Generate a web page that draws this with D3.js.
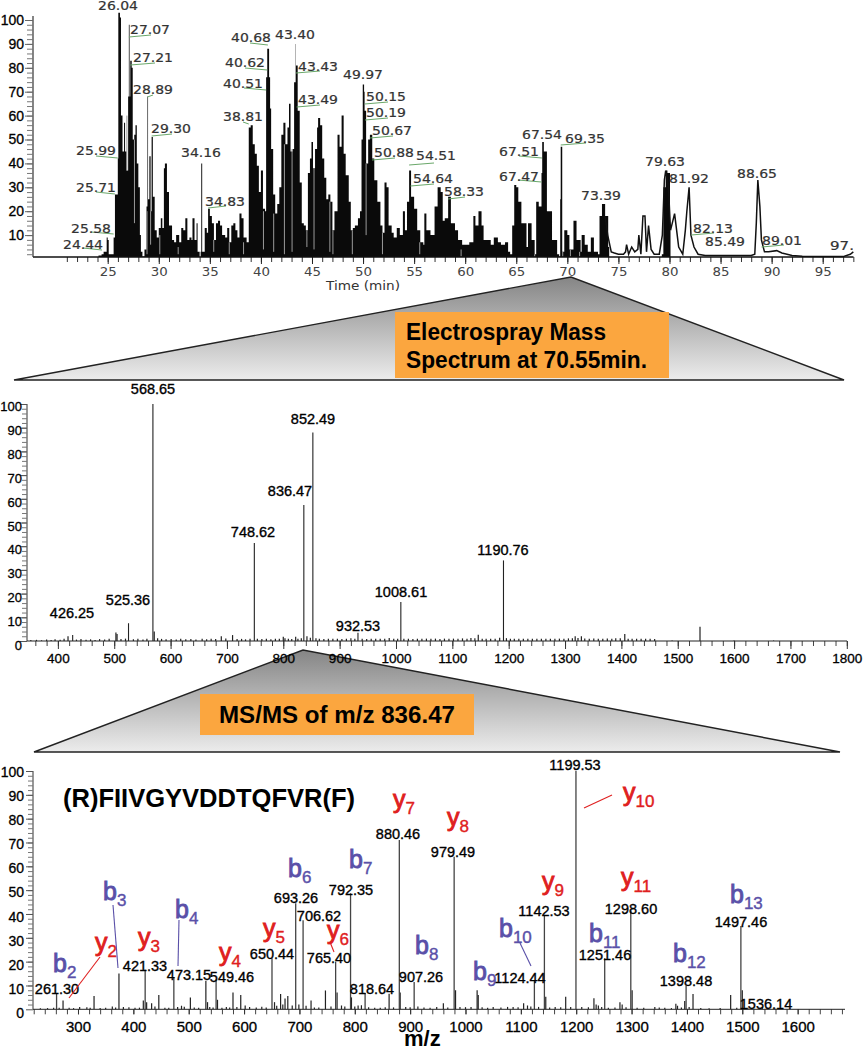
<!DOCTYPE html>
<html>
<head>
<meta charset="utf-8">
<title>LC-MS/MS</title>
<script src="https://cdn.jsdelivr.net/npm/d3@7"></script>
<style>
  body { margin: 0; background: #fff; }
  svg { display: block; }
  .ms text { font-family: "Liberation Sans", Arial, sans-serif; fill: #000; }
</style>
</head>
<body>
<div id="chart"></div>
<script>
// ---- chromatogram: [time, relative abundance] ----
const chromFilled = [[24,0.8],[24.1,1.5],[24.4,2],[24.6,3],[24.8,3],[24.9,9],[25.0,8],[25.1,2],[25.5,2],[25.58,9],[25.65,9],[25.71,27],[25.9,27],[25.99,42],[26.04,103],[26.2,101],[26.3,60],[26.45,45],[26.6,57],[26.7,45],[26.85,37],[27.0,68],[27.07,98],[27.14,68],[27.21,83],[27.35,80],[27.45,50],[27.6,52],[27.72,56],[27.85,40],[28.0,30],[28.15,10],[28.25,3],[28.4,1],[28.6,4],[28.8,22],[28.89,68],[28.95,25],[29.08,43],[29.2,20],[29.3,51],[29.42,26],[29.6,12],[29.8,9],[30.0,13],[30.2,17],[30.35,13],[30.5,38],[30.6,40],[30.8,28],[31,14],[31.3,8],[31.5,7],[31.7,10],[32,7],[32.2,13],[32.4,12],[32.6,17],[32.8,8],[33,9],[33.2,8],[33.3,17],[33.5,8],[33.7,15],[33.8,3],[34.0,0.8],[34.1,3],[34.16,40],[34.25,3],[34.5,13],[34.7,11],[34.83,21],[35.0,18],[35.2,15],[35.4,8],[35.6,15],[35.8,16],[36,14],[36.2,10],[36.5,9],[36.7,13],[36.9,7],[37.1,14],[37.3,15],[37.5,12],[37.7,9],[37.9,19],[38.1,17],[38.3,9],[38.6,7],[38.81,55],[39,56],[39.2,48],[39.4,44],[39.6,39],[39.8,28],[40,37],[40.2,21],[40.4,20],[40.51,76],[40.62,88],[40.8,76],[40.9,63],[41,46],[41.2,27],[41.4,19],[41.6,23],[41.8,30],[42,52],[42.2,57],[42.4,48],[42.6,55],[42.75,65],[42.9,45],[43.1,46],[43.25,74],[43.4,90],[43.43,81],[43.6,62],[43.8,32],[44.0,15],[44.2,14],[44.4,12],[44.6,36],[44.8,42],[44.95,49],[45.1,38],[45.3,46],[45.5,55],[45.6,59],[45.8,56],[46,42],[46.2,34],[46.4,25],[46.6,27],[46.8,24],[47,12],[47.2,20],[47.5,52],[47.7,47],[47.9,60],[48.1,44],[48.3,35],[48.6,24],[48.8,12],[49,13],[49.2,14],[49.5,17],[49.7,20],[49.85,50],[49.97,73],[50.1,70],[50.15,62],[50.3,40],[50.5,50],[50.67,52],[50.9,42],[51.1,33],[51.4,24],[51.7,14],[51.9,11],[52.1,32],[52.3,30],[52.5,14],[52.8,11],[53,9],[53.3,13],[53.6,10],[53.9,20],[54.1,12],[54.3,24],[54.51,37],[54.7,26],[55,21],[55.3,12],[55.6,7],[55.9,6],[56,19],[56.2,12],[56.6,10],[57,22],[57.3,30],[57.6,28],[57.8,16],[58.0,17],[58.33,26],[58.6,15],[59,12],[59.3,8],[59.7,6],[60.4,7],[60.8,18],[61,14],[61.3,20],[61.6,14],[61.8,8],[62.5,6],[62.8,9],[63.2,7],[63.5,6],[63.9,7],[64.2,3],[64.4,2],[64.6,14],[64.8,31],[65,30],[65.2,24],[65.5,15],[66,5],[66.15,15],[66.5,8],[66.8,2],[66.95,24],[67.2,22],[67.47,36],[67.54,49],[67.7,45],[68,20],[68.5,8],[69,2],[69.2,1],[69.3,25],[69.35,47],[69.45,47],[69.5,3],[69.7,12],[70,10],[70.2,4],[70.6,16],[70.9,8],[71.3,3],[71.4,10],[71.7,6],[72,3],[72.3,9],[72.6,3],[73,2],[73.15,18],[73.39,23],[73.7,18],[74,5],[74.1,0.8]];
const chromPeak80 = [[79.25,2],[79.4,30],[79.63,37],[79.8,36],[80.05,12],[80.1,1]];
const chromOpen = [[73.7,18],[73.95,10],[74.3,3],[74.6,2.5],[75,2],[75.5,2],[75.7,3],[75.8,6],[76,2],[76.3,5],[76.6,3],[76.9,4],[77,10],[77.2,2],[77.4,18],[77.6,18],[77.75,3],[77.95,14],[78.2,4],[78.5,2],[79,2],[79.3,10],[79.5,33],[79.63,37],[79.9,30],[80.1,12],[80.5,19],[80.9,5],[81.3,2],[81.55,12],[81.7,20],[81.92,30],[82.1,10],[82.4,5],[82.8,2],[83.5,1.5],[85,1.5],[88,1.5],[88.35,2],[88.5,15],[88.65,33],[88.85,22],[89,8],[89.3,3],[89.7,3],[90.5,3.5],[91,2.5],[92,1.5],[93,1.2],[95,1],[97,1],[97.7,2],[98,3]];
const chromSlits = [[26.88,37,60],[27.62,15,50],[28.85,2,20],[29.2,6,20],[30.1,2,10],[31.9,2,5],[35.38,3,8],[36.9,2,7],[38.3,2,7],[40.25,4,20],[41.25,3,19],[42.3,2,48],[43.05,3,46],[44.5,5,12],[45.2,4,38],[46.75,3,24],[47.05,2,12],[48.95,2,12],[50.3,10,40],[51.9,2,11],[55.55,2,7],[59.6,1,4],[66.8,1,2],[69.55,1,3],[70.3,1,4],[71.2,1,3]];

// retention time labels, and their abundance
const rtLabels = ["24.44","25.58","25.71","25.99","26.04","27.07","27.21","28.89","29.30","34.16","34.83","38.81","40.51","40.62","40.68","43.40","43.43","43.49","49.97","50.15","50.19","50.67","50.88","54.51","54.64","58.33","67.47","67.51","67.54","69.35","73.39","79.63","81.92","82.13","85.49","88.65","89.01","97."];
const rtAbundance = [2,9,27,42,103,98,83,68,51,40,21,55,76,88,90,90,81,62,73,65,58,51,42,37,30,26,36,45,49,47,23,37,30,11,1.5,33,5,2];
const timeTicks = [25,30,35,40,45,50,55,60,65,70,75,80,85,90,95];

// ---- full scan at 70.55 min ----
const scanLabels = ["426.25","525.36","568.65","748.62","836.47","852.49","932.53","1008.61","1190.76"];
const scanAbundance = [2.5,7.5,100,41.4,57.4,88,3.5,16.5,34];
const scanMinor = [[418,2],[503,3.6],[505,3],[571,4],[690,2],[710,2.5],[800,1.8],[803,1.2],[822,1.8],[826,1],[842,2],[858,1.2],[1146,2.6],[1140,1.2],[1126,1],[1318,2],[1329,2],[1390,1.2],[1406,3],[1412,1],[1539.5,6]];
const scanNoise = [[352,0.4],[362,0.5],[371,0.3],[380,0.6],[388,0.4],[395,0.7],[404,0.5],[411,0.9],[433,0.6],[441,0.8],[450,0.5],[458,0.7],[466,0.4],[474,0.8],[483,0.6],[491,0.9],[512,0.8],[520,1],[534,0.7],[542,0.9],[551,0.6],[558,1],[577,1.2],[584,0.9],[592,0.7],[601,0.8],[610,0.6],[618,0.9],[627,0.7],[636,0.8],[645,0.6],[656,0.9],[664,0.7],[672,1],[680,0.8],[698,1.1],[718,0.8],[726,0.9],[733,0.7],[741,1],[754,1],[762,0.8],[770,1],[778,0.7],[786,1],[793,0.9],[809,1],[815,0.8],[832,1.2],[848,1.4],[864,1],[872,0.8],[880,1],[888,0.9],[896,1],[904,0.8],[912,1],[920,1.2],[927,1],[940,1],[948,0.8],[956,1],[964,0.9],[972,1],[980,1],[988,1.3],[996,0.9],[1003,1],[1014,0.9],[1022,1],[1030,0.8],[1038,1],[1046,0.9],[1054,1],[1062,0.9],[1070,1],[1078,0.8],[1086,1],[1094,0.9],[1102,1],[1110,1],[1118,1.1],[1133,1.3],[1153,1],[1160,0.9],[1168,1],[1176,1],[1184,1.4],[1196,1.2],[1203,1],[1210,1],[1218,0.9],[1226,1],[1234,0.9],[1242,1],[1250,1],[1258,0.9],[1266,1],[1274,1],[1282,0.9],[1290,1],[1298,1],[1306,1.1],[1313,1.2],[1323,1.3],[1335,1.1],[1343,1],[1351,1.1],[1359,1],[1367,1],[1375,1.1],[1383,1],[1398,1.2],[1419,1],[1427,1],[1435,0.9],[1443,1],[1451,0.9],[1459,0.8],[1490,0.2],[1600,0.2],[1670,0.2]];
const scanTicks = [400,500,600,700,800,900,1000,1100,1200,1300,1400,1500,1600,1700,1800];

// ---- MS/MS of 836.47 ----
const msmsLabels = ["261.30","421.33","473.15","549.46","650.44","693.26","706.62","765.40","792.35","818.64","880.46","907.26","979.49","1124.44","1142.53","1199.53","1251.46","1298.60","1398.48","1497.46","1536.14"];
const msmsAbundance = [6.8,16.6,13.5,12.5,21.4,44.5,37.4,20,48.7,6.8,71,11.5,64,12.3,39.6,100,21.4,41.5,10,35,1];
const msmsMinor = [[273,3.7],[329,5.6],[374,15],[418,3.7],[424,3],[433,2.5],[446,6],[503,5],[531,12],[534,3],[552,4],[580,7],[594,6],[666,6.4],[674,4.5],[679,5.6],[721,3.7],[747,7.9],[768,7],[794,5],[862,6.5],[882,7],[960,2.5],[982,8],[1021,8],[1023,6],[1105,2.5],[1145,5.3],[1181,5.3],[1232,4.6],[1236,2],[1279,3],[1283,2],[1301,8],[1380,2.3],[1383,1.5],[1396,3.5],[1411,6.4],[1479,6],[1500,8]];
const msmsNoise = [[232,0.4],[245,0.5],[256,0.6],[266,0.7],[284,0.6],[292,0.5],[303,1],[316,0.9],[322,0.6],[340,0.5],[350,0.7],[362,1.2],[368,0.8],[382,1],[392,0.9],[403,0.6],[411,0.7],[439,1.2],[457,0.6],[464,0.7],[480,1],[487,1.5],[492,1.1],[510,0.8],[518,0.6],[538,1],[544,0.8],[560,0.6],[568,1],[574,0.8],[587,1],[602,1.6],[610,1],[622,0.8],[632,1.1],[640,0.8],[655,3],[659,1.5],[670,2],[687,1.6],[699,2],[712,1.5],[727,0.8],[735,0.8],[757,1.2],[776,1.6],[782,1.2],[800,1.2],[806,1.6],[812,1.7],[825,0.9],[836,0.7],[846,0.7],[855,0.9],[870,0.8],[892,1],[900,0.9],[914,1.2],[925,0.8],[936,0.7],[948,1],[968,0.8],[990,1],[1000,0.9],[1010,1],[1030,0.9],[1040,0.6],[1050,1],[1064,0.8],[1076,1],[1086,1],[1095,0.9],[1112,1.6],[1118,1.2],[1132,1],[1152,0.8],[1162,1],[1172,0.9],[1190,1],[1210,1],[1222,0.9],[1240,1.6],[1246,1],[1258,0.7],[1270,0.8],[1290,0.9],[1310,0.7],[1322,0.6],[1342,1],[1350,0.8],[1360,0.6],[1372,0.5],[1390,0.8],[1404,1],[1425,0.5],[1440,0.4],[1460,0.5],[1490,0.6],[1510,0.7],[1530,0.4],[1560,0.2]];
const msmsTicks = [300,400,500,600,700,800,900,1000,1100,1200,1300,1400,1500,1600];

const percentTicks = [0,10,20,30,40,50,60,70,80,90,100];
const sequence = "(R)FIIVGYVDDTQFVR(F)";
const ionLetters = ["b","b","b","b","b","b","b","b","b","b","b","y","y","y","y","y","y","y","y","y","y"];
const ionNumbers = [2,3,4,6,7,8,9,10,11,12,13,2,3,4,5,6,7,8,9,10,11];

const width = 864, height = 1050;
const svg = d3.select("#chart").append("svg")
  .attr("width", width).attr("height", height);

const defs = svg.append("defs");
const grad = defs.append("linearGradient").attr("id", "fade")
  .attr("x1", 0).attr("y1", 0).attr("x2", 0).attr("y2", 1);
grad.append("stop").attr("offset", "0%").attr("stop-color", "#858585");
grad.append("stop").attr("offset", "100%").attr("stop-color", "#ececec");
defs.append("clipPath").attr("id", "edge").append("rect")
  .attr("x", 0).attr("y", 0).attr("width", 853).attr("height", 300);

// zoom triangles and orange captions go under the axes
function callout(apex, left, right, baseY, box, lines) {
  svg.append("path")
    .attr("d", `M${left},${baseY}L${apex[0]},${apex[1]}L${right},${baseY}Z`)
    .attr("fill", "url(#fade)").attr("stroke", "#222").attr("stroke-width", 1.4);
  svg.append("rect").attr("x", box[0]).attr("y", box[1])
    .attr("width", box[2]).attr("height", box[3]).attr("fill", "#fba63f");
  lines.forEach(l => {
    svg.append("text").attr("x", l[1]).attr("y", l[2])
      .attr("font-family", "Liberation Sans, Arial, sans-serif")
      .attr("font-weight", "bold").attr("font-size", 23)
      .attr("textLength", l[3]).attr("lengthAdjust", "spacingAndGlyphs")
      .text(l[0]);
  });
}
callout([571, 277], 14, 844, 380, [395, 312, 274, 66],
  [["Electrospray Mass", 406, 340, 200], ["Spectrum at 70.55min.", 406, 368, 241]]);
callout([303, 650], 34, 840, 752, [200, 694, 274, 41],
  [["MS/MS of m/z 836.47", 219, 723, 236]]);

// ---- top panel ----
const tx = d3.scaleLinear().domain([25, 95]).range([107.7, 822.7]);
const ty = d3.scaleLinear().domain([0, 100]).range([259, 20]);
const chrom = svg.append("g");

const tArea = d3.area().curve(d3.curveStepAfter).x(d => tx(d[0])).y0(ty(0.8)).y1(d => ty(d[1]));
chrom.append("path").attr("d", tArea(chromFilled)).attr("fill", "#0a0a0a");
chrom.append("path").attr("d", tArea(chromPeak80)).attr("fill", "#0a0a0a");
chrom.append("path")
  .attr("d", d3.line().x(d => tx(d[0])).y(d => ty(d[1]))(chromOpen))
  .attr("fill", "none").attr("stroke", "#111").attr("stroke-width", 1.5);
chrom.selectAll("line.slit").data(chromSlits).enter().append("line")
  .attr("class", "slit")
  .attr("x1", d => tx(d[0])).attr("x2", d => tx(d[0]))
  .attr("y1", d => ty(d[1])).attr("y2", d => ty(d[2]))
  .attr("stroke", "#9a9a9a").attr("stroke-width", 1);

const tAxisMinor = d3.axisBottom(tx).tickValues(d3.range(21, 99)).tickSize(5).tickFormat("");
const tAxisMajor = d3.axisBottom(tx).tickValues(timeTicks).tickSize(7).tickPadding(3);
chrom.append("g").attr("transform", "translate(0,257)").call(tAxisMinor)
  .call(g => g.select(".domain").remove())
  .selectAll("line").attr("stroke", "#333");
const tMajor = chrom.append("g").attr("transform", "translate(0,257)").call(tAxisMajor);
tMajor.select(".domain").remove();
tMajor.selectAll("line").attr("stroke", "#222");
tMajor.selectAll("text").attr("font-family", "DejaVu Sans").attr("font-size", 12)
  .attr("fill", "#444").attr("textLength", 17).attr("lengthAdjust", "spacingAndGlyphs");
chrom.append("line").attr("x1", 33).attr("x2", 853.5).attr("y1", 257).attr("y2", 257)
  .attr("stroke", "#111").attr("stroke-width", 1.4);
chrom.append("line").attr("x1", 33).attr("x2", 33).attr("y1", 16).attr("y2", 257)
  .attr("stroke", "#333").attr("stroke-width", 1.2);

const tyMinor = d3.axisLeft(ty).tickValues(d3.range(2, 101, 2)).tickSize(6).tickFormat("");
const tyMajor = d3.axisLeft(ty).tickValues(percentTicks.slice(1)).tickSize(8).tickPadding(1);
chrom.append("g").attr("transform", "translate(33,0)").call(tyMinor)
  .call(g => g.select(".domain").remove())
  .selectAll("line").attr("stroke", "#777");
const tyAxis = chrom.append("g").attr("transform", "translate(33,0)").call(tyMajor);
tyAxis.select(".domain").remove();
tyAxis.selectAll("line").attr("stroke", "#666");
tyAxis.selectAll("text").attr("font-family", "Liberation Sans").attr("font-size", 14)
  .attr("fill", "#000").attr("stroke", "#000").attr("stroke-width", 0.3);

chrom.append("text").attr("x", 326).attr("y", 290)
  .attr("font-family", "DejaVu Sans").attr("font-size", 11.5).attr("fill", "#333")
  .attr("textLength", 74).attr("lengthAdjust", "spacingAndGlyphs").text("Time (min)");

// text corner and leader end of each retention time label, by label
const rtLayout = {
  "24.44": [63, 249, 83, 248], "25.58": [71, 233, 91, 232], "25.71": [76, 192, 96, 192],
  "25.99": [76, 155, 96, 156], "26.04": [98, 10], "27.07": [130, 34, 151, 35],
  "27.21": [133, 62, 155, 63], "28.89": [133, 94, 153, 95], "29.30": [151, 133, 172, 134],
  "34.16": [181, 157], "34.83": [205, 206, 226, 206], "38.81": [223, 121, 243, 122],
  "40.51": [223, 88, 244, 88], "40.62": [225, 67, 245, 68], "40.68": [231, 42, 250, 43],
  "43.40": [275, 39], "43.43": [298, 71, 320, 71], "43.49": [298, 104, 320, 105],
  "49.97": [343, 79], "50.15": [366, 101, 388, 102], "50.19": [366, 117, 388, 118],
  "50.67": [372, 135, 393, 136], "50.88": [374, 157, 395, 158], "54.51": [416, 160, 434, 163],
  "54.64": [413, 183, 434, 184], "58.33": [444, 196, 465, 197], "67.47": [499, 181, 518, 180],
  "67.51": [499, 156, 519, 156], "67.54": [522, 139], "69.35": [565, 143, 586, 143],
  "73.39": [581, 200], "79.63": [645, 166], "81.92": [669, 183], "82.13": [693, 233, 714, 233],
  "85.49": [705, 246], "88.65": [737, 178], "89.01": [762, 245, 784, 245], "97.": [830, 250]
};
const rtPoints = rtLabels.map((label, i) => ({ label, t: +label, v: rtAbundance[i], pos: rtLayout[label] }));
chrom.selectAll("line.lead").data(rtPoints.filter(d => d.pos.length > 2)).enter().append("line")
  .attr("class", "lead")
  .attr("x1", d => d.pos[2]).attr("y1", d => d.pos[3])
  .attr("x2", d => tx(d.t)).attr("y2", d => d.pos[3] + 2)
  .attr("stroke", "#6aa86a").attr("stroke-width", 1);
chrom.selectAll("text.rt").data(rtPoints).enter().append("text")
  .attr("class", "rt").attr("clip-path", "url(#edge)")
  .attr("x", d => d.pos[0]).attr("y", d => d.pos[1])
  .attr("font-family", "DejaVu Sans").attr("font-size", 12).attr("fill", "#333")
  .attr("stroke", "#333").attr("stroke-width", 0.2)
  .attr("textLength", d => d.label.length > 3 ? 40 : 24).attr("lengthAdjust", "spacingAndGlyphs")
  .text(d => d.label);

// ---- shared drawing of the two stick spectra ----
function spectrum(o) {
  const g = svg.append("g").attr("class", "ms");
  const x = d3.scaleLinear().domain(o.xDomain).range(o.xRange);
  const y = d3.scaleLinear().domain([0, 100]).range(o.yRange);
  const labelY = d3.scaleLinear().domain([0, 100]).range(o.labelRange);
  const base = o.yRange[0];

  g.selectAll("line.noise").data(o.noise.concat(o.minor)).enter().append("line")
    .attr("class", "noise")
    .attr("x1", d => x(d[0])).attr("x2", d => x(d[0]))
    .attr("y1", base).attr("y2", d => y(d[1]))
    .attr("stroke", "#222").attr("stroke-width", 1.2);
  const main = o.labels.map((label, i) => ({ label, mz: +label, v: o.values[i], pos: o.layout[label] }));
  g.selectAll("line.peak").data(main).enter().append("line")
    .attr("class", "peak")
    .attr("x1", d => x(d.mz)).attr("x2", d => x(d.mz))
    .attr("y1", base).attr("y2", d => y(d.v))
    .attr("stroke", o.peakColor).attr("stroke-width", o.peakWidth);

  const minorTicks = d3.range(o.tickFrom, o.xDomain[1] + 1, 20);
  g.append("g").attr("transform", `translate(0,${base})`)
    .call(d3.axisBottom(x).tickValues(minorTicks).tickSize(5).tickFormat(""))
    .call(a => a.select(".domain").remove())
    .selectAll("line").attr("stroke", "#444");
  const xAxis = g.append("g").attr("transform", `translate(0,${base})`)
    .call(d3.axisBottom(x).tickValues(o.ticks).tickSize(o.majorTick).tickPadding(o.tickPad).tickFormat(d3.format("d")));
  xAxis.select(".domain").remove();
  xAxis.selectAll("line").attr("stroke", "#333");
  xAxis.selectAll("text").attr("font-size", o.tickFont).attr("stroke", "#000").attr("stroke-width", 0.3);
  g.append("line").attr("x1", o.axisLeft).attr("x2", o.axisRight).attr("y1", base).attr("y2", base)
    .attr("stroke", "#222").attr("stroke-width", 1);
  g.append("line").attr("x1", o.axisLeft).attr("x2", o.axisLeft)
    .attr("y1", o.yRange[1]).attr("y2", base).attr("stroke", "#333").attr("stroke-width", 1);

  g.append("g").attr("transform", `translate(${o.axisLeft},0)`)
    .call(d3.axisLeft(y).tickValues(d3.range(2, 101, 2)).tickSize(5).tickFormat(""))
    .call(a => a.select(".domain").remove())
    .selectAll("line").attr("stroke", "#777");
  g.append("g").attr("transform", `translate(${o.axisLeft},0)`)
    .call(d3.axisLeft(y).tickValues(percentTicks).tickSize(7).tickFormat(""))
    .call(a => a.select(".domain").remove())
    .selectAll("line").attr("stroke", "#555");
  const yLab = g.append("g").attr("transform", `translate(${o.axisLeft},0)`)
    .call(d3.axisLeft(labelY).tickValues(percentTicks).tickSize(0).tickPadding(o.yPad));
  yLab.select(".domain").remove();
  yLab.selectAll("text").attr("font-size", o.yFont).attr("stroke", "#000").attr("stroke-width", 0.3);

  g.selectAll("text.mz").data(main).enter().append("text")
    .attr("class", "mz").attr("text-anchor", "middle")
    .attr("x", d => d.pos[0]).attr("y", d => d.pos[1])
    .attr("font-size", o.labelFont).attr("stroke", "#000").attr("stroke-width", 0.35)
    .text(d => d.label);
}

spectrum({
  xDomain: [350, 1800], xRange: [29.7, 846.8], yRange: [641, 404], labelRange: [645.7, 406],
  labels: scanLabels, values: scanAbundance, minor: scanMinor, noise: scanNoise, ticks: scanTicks,
  tickFrom: 360, majorTick: 8, tickPad: 4, tickFont: 13.5, yFont: 13, yPad: 5, labelFont: 14.5,
  axisLeft: 27, axisRight: 847, peakColor: "#222", peakWidth: 1.1,
  layout: {
    "426.25": [72, 618], "525.36": [128, 605], "568.65": [153, 394], "748.62": [253, 537],
    "836.47": [290, 496], "852.49": [313, 424], "932.53": [358, 631], "1008.61": [401, 597],
    "1190.76": [503, 555]
  }
});

spectrum({
  xDomain: [218, 1685], xRange: [32.6, 844.7], yRange: [1009.3, 771], labelRange: [1013, 772],
  labels: msmsLabels, values: msmsAbundance, minor: msmsMinor, noise: msmsNoise, ticks: msmsTicks,
  tickFrom: 220, majorTick: 5, tickPad: 7, tickFont: 15, yFont: 14, yPad: 9, labelFont: 14.5,
  axisLeft: 33, axisRight: 845, peakColor: "#444", peakWidth: 1.3,
  layout: {
    "261.30": [57, 994], "421.33": [145, 971], "473.15": [189, 980], "549.46": [232, 982],
    "650.44": [272, 959], "693.26": [296, 903], "706.62": [319, 921], "765.40": [329, 963],
    "792.35": [351, 895], "818.64": [372, 994], "880.46": [398, 839], "907.26": [421, 982],
    "979.49": [453, 857], "1124.44": [520, 983], "1142.53": [544, 916], "1199.53": [575, 770],
    "1251.46": [605, 960], "1298.60": [631, 914], "1398.48": [686, 986], "1497.46": [741, 927],
    "1536.14": [766, 1009]
  }
});

// ---- peptide sequence, ion names, leader lines ----
const ann = svg.append("g").attr("class", "ms");
ann.append("text").attr("x", 63).attr("y", 807)
  .attr("font-weight", "bold").attr("font-size", 25.5)
  .attr("textLength", 292).attr("lengthAdjust", "spacingAndGlyphs").text(sequence);
ann.append("text").attr("x", 404).attr("y", 1046)
  .attr("font-weight", "bold").attr("font-size", 22).text("m/z");

const ionPos = [[53,972],[103,900],[175,918],[288,877],[349,868],[415,954],[473,980],[499,937],[589,942],[673,962],[730,903],
  [95,951],[138,946],[219,961],[263,937],[327,939],[393,808],[447,826],[542,890],[623,801],[621,886]];
const ionColor = { b: "#5a50a8", y: "#df2020" };
ionLetters.forEach((c, i) => {
  const t = ann.append("text").attr("x", ionPos[i][0]).attr("y", ionPos[i][1])
    .attr("font-size", 25).style("fill", ionColor[c]).attr("stroke", ionColor[c]).attr("stroke-width", 0.9);
  t.append("tspan").text(c);
  t.append("tspan").attr("font-size", 17).attr("dy", 5.5).attr("stroke-width", 0.4).text(ionNumbers[i]);
});

const ionLeaders = [["b",113,905,118,968],["b",179,920,178,966],["b",520,943,531,966],
  ["y",100,957,69,998],["y",330,942,334,952],["y",584,808,612,795]];
ann.selectAll("line.ion").data(ionLeaders).enter().append("line")
  .attr("class", "ion")
  .attr("x1", d => d[1]).attr("y1", d => d[2]).attr("x2", d => d[3]).attr("y2", d => d[4])
  .attr("stroke", d => ionColor[d[0]]).attr("stroke-width", 1.1);
</script>
</body>
</html>
